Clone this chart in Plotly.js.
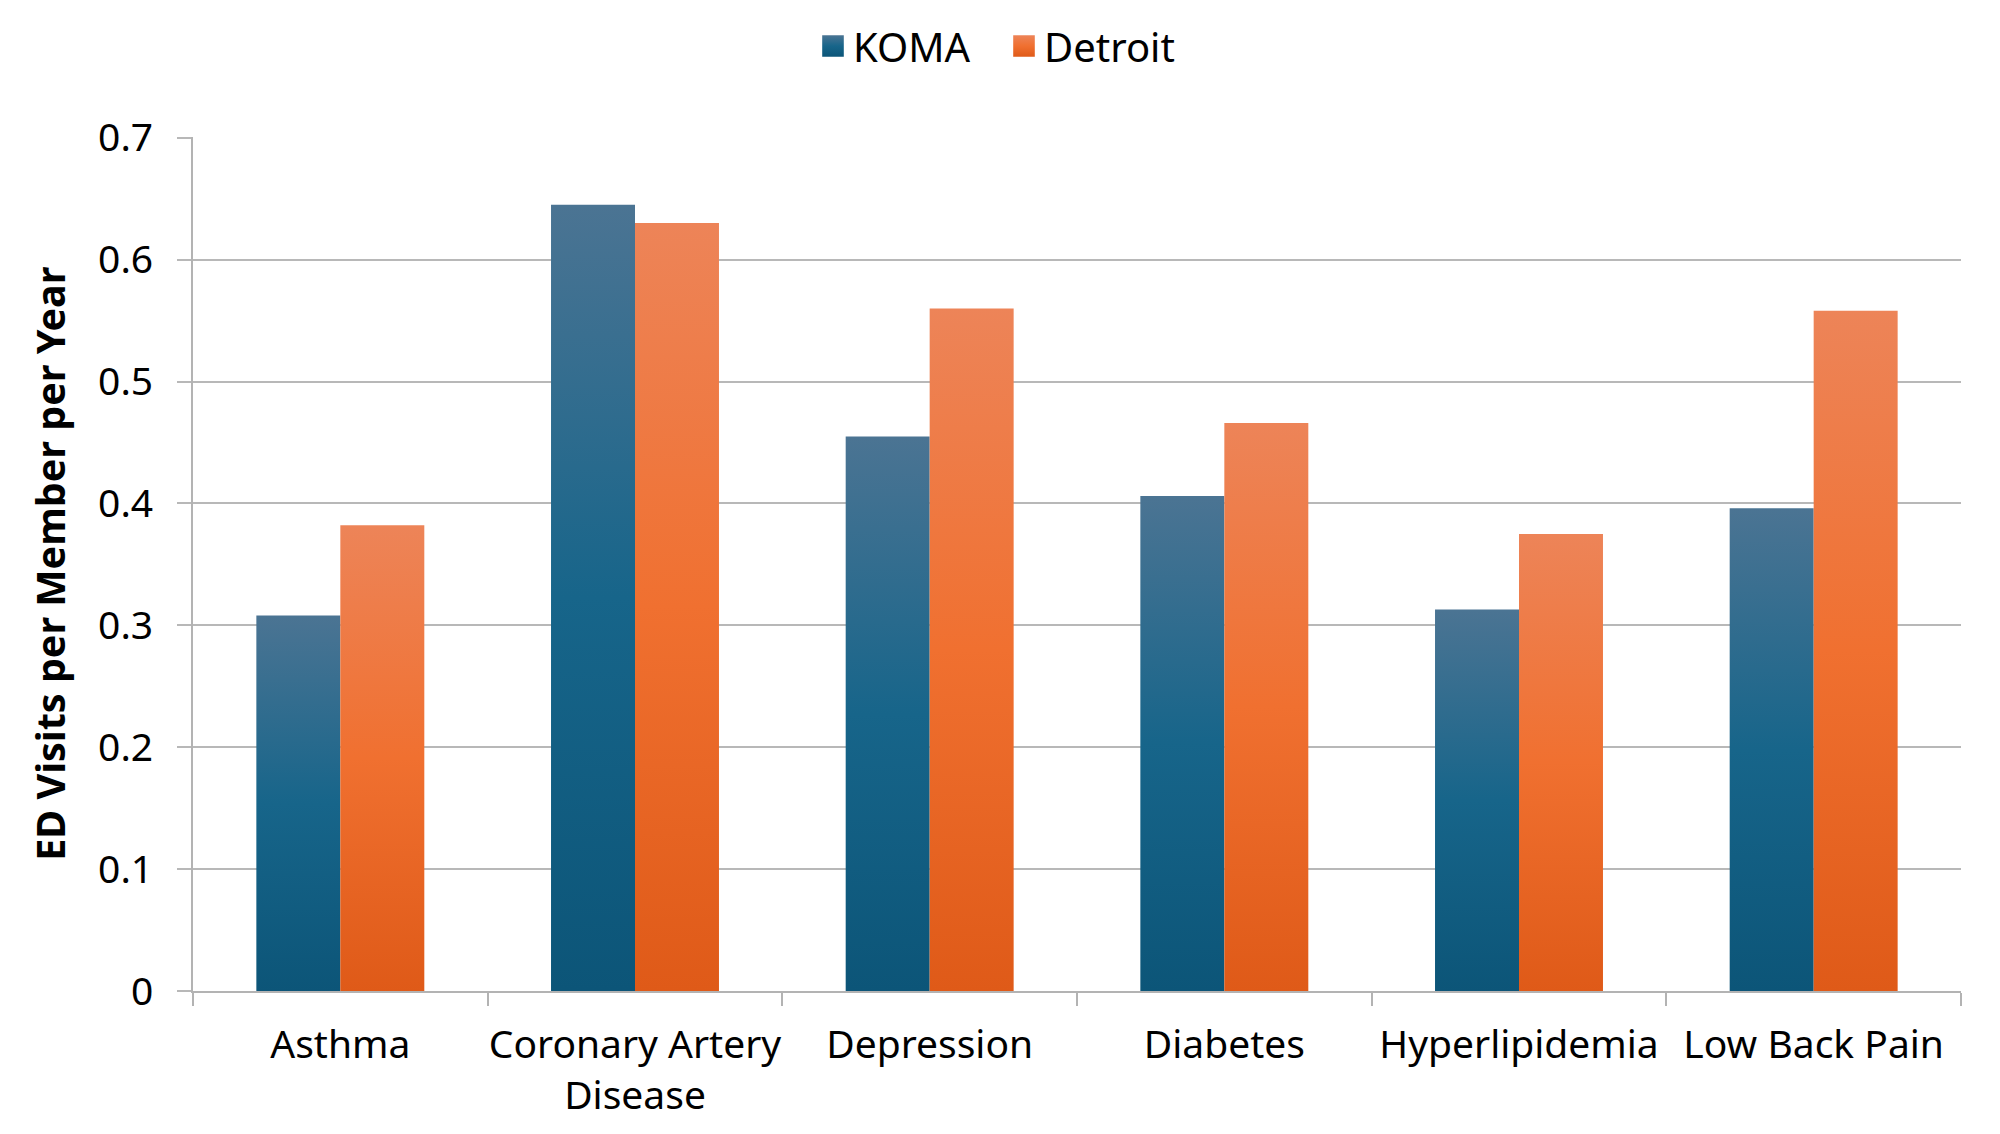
<!DOCTYPE html>
<html>
<head>
<meta charset="utf-8">
<script src="https://cdn.plot.ly/plotly-3.0.1.min.js"></script>
<style>
html,body{margin:0;padding:0;background:#fff;}
#chart{width:2000px;height:1134px;}
</style>
</head>
<body>
<div id="chart"></div>
<script>
const categories = ["Asthma", "Coronary Artery<br>Disease", "Depression", "Diabetes", "Hyperlipidemia", "Low Back Pain"];
const komaValues = [0.308, 0.645, 0.455, 0.406, 0.313, 0.396];
const detroitValues = [0.382, 0.630, 0.560, 0.466, 0.375, 0.558];
const yTickVals = [0, 0.1, 0.2, 0.3, 0.4, 0.5, 0.6, 0.7];
const yTickText = ["0", "0.1", "0.2", "0.3", "0.4", "0.5", "0.6", "0.7"];
const yTitle = "ED Visits per Member per Year";

const FONT = "Noto Sans, Open Sans, sans-serif";

const traces = [
  {type: "bar", name: "KOMA", x: categories, y: komaValues,
   marker: {color: "#156082", line: {width: 0}}, hoverinfo: "none"},
  {type: "bar", name: "Detroit", x: categories, y: detroitValues,
   marker: {color: "#E97132", line: {width: 0}}, hoverinfo: "none"}
];

const layout = {
  width: 2000, height: 1134,
  margin: {l: 193, r: 39, t: 137, b: 143, autoexpand: false},
  paper_bgcolor: "#ffffff", plot_bgcolor: "#ffffff",
  barmode: "group", bargap: 0.43, bargroupgap: 0,
  font: {family: FONT, size: 40, color: "#000000"},
  showlegend: true,
  legend: {orientation: "h", xref: "container", yref: "container", x: 0.502, xanchor: "center",
           y: 0.9594, yanchor: "middle", entrywidth: 146, entrywidthmode: "pixels",
           font: {family: FONT, size: 40, color: "#000"}, itemwidth: 30, traceorder: "normal"},
  xaxis: {
    type: "category", showgrid: false, showline: true, linecolor: "#b3b3b3", linewidth: 2,
    ticks: "outside", tickson: "boundaries", ticklen: 13, tickcolor: "#b3b3b3", tickwidth: 2,
    tickangle: 0,
    tickfont: {family: FONT, size: 39, color: "#000"}, automargin: false, ticklabelstandoff: 18
  },
  yaxis: {
    range: [0, 0.7006], tickvals: yTickVals, ticktext: yTickText,
    showgrid: true, gridcolor: "#b8b8b8", gridwidth: 2,
    showline: true, linecolor: "#b3b3b3", linewidth: 2,
    ticks: "outside", ticklen: 14, tickcolor: "#b8b8b8", tickwidth: 2,
    tickfont: {family: FONT, size: 39, color: "#000"},
    zeroline: false, automargin: false, ticklabelstandoff: 16
  },
  annotations: [{
    text: "<b>" + yTitle + "</b>", xref: "paper", yref: "paper",
    x: -0.081, y: 0.5, xanchor: "center", yanchor: "middle", textangle: -90,
    showarrow: false, font: {family: FONT, size: 39.5, color: "#000"}
  }]
};

Plotly.newPlot("chart", traces, layout, {staticPlot: true, displayModeBar: false}).then(function(gd){
  const svg = gd.querySelector("svg.main-svg");
  const ns = "http://www.w3.org/2000/svg";
  let defs = svg.querySelector("defs");
  function grad(id, stops){
    const g = document.createElementNS(ns, "linearGradient");
    g.setAttribute("id", id);
    g.setAttribute("x1", "0"); g.setAttribute("y1", "0");
    g.setAttribute("x2", "0"); g.setAttribute("y2", "1");
    stops.forEach(function(s){
      const st = document.createElementNS(ns, "stop");
      st.setAttribute("offset", s[0]);
      st.setAttribute("stop-color", s[1]);
      g.appendChild(st);
    });
    defs.appendChild(g);
  }
  grad("gradKoma", [["0", "#4b7493"], ["0.5", "#17658a"], ["1", "#0c5578"]]);
  grad("gradDetroit", [["0", "#ed8458"], ["0.5", "#f07030"], ["1", "#df5a18"]]);
  const ids = ["gradKoma", "gradDetroit"];
  gd.querySelectorAll(".barlayer .trace").forEach(function(t, i){
    t.querySelectorAll("path").forEach(function(p){ p.style.fill = "url(#" + ids[i] + ")"; });
  });
  gd.querySelectorAll(".legend .traces").forEach(function(t, i){
    t.querySelectorAll(".legendpoints path").forEach(function(p){
      p.style.fill = "url(#" + ids[i] + ")";
      const tr = p.getAttribute("transform") || "";
      p.setAttribute("transform", tr + " scale(1.8)");
    });
  });
});
</script>
</body>
</html>
